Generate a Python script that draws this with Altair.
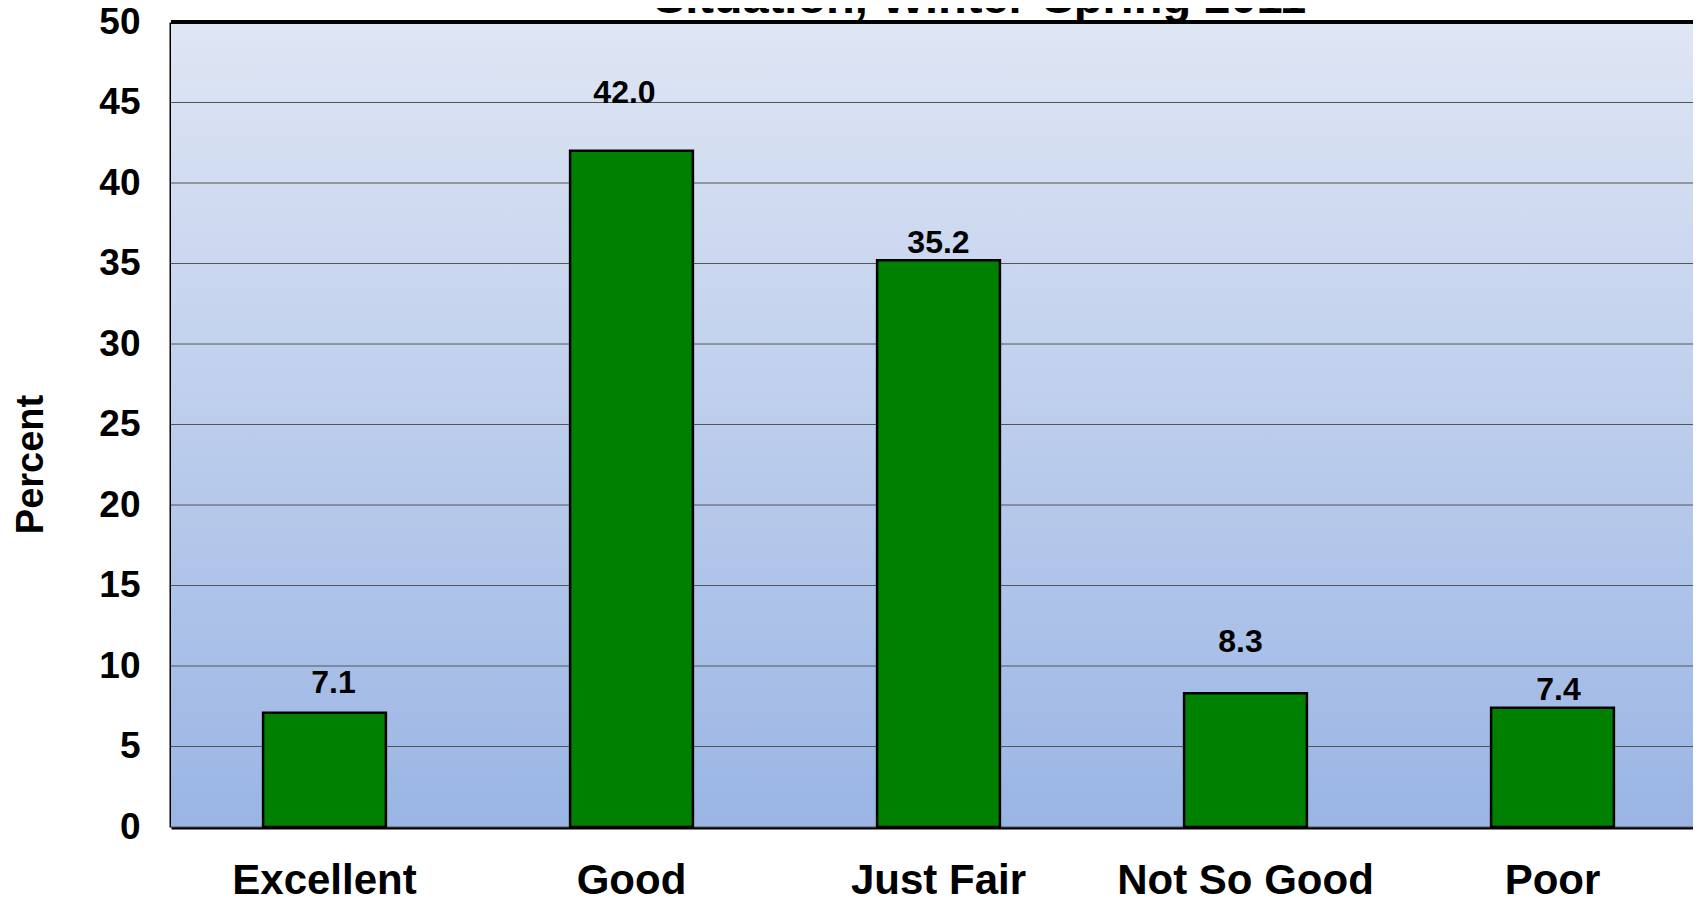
import altair as alt
import pandas as pd

# ---- data ----
categories = ["Excellent", "Good", "Just Fair", "Not So Good", "Poor"]
percents = [7.1, 42.0, 35.2, 8.3, 7.4]
y_ticks = [0, 5, 10, 15, 20, 25, 30, 35, 40, 45, 50]
title_text = "Situation, Winter-Spring 2011"
y_title = "Percent"

# label placement (pixels): lift of each value label above its bar, and sideways nudge
label_lift_px = [20, 48, 7, 41, 8]
label_shift_px = [9, -7, 0, -5, 6]

df = pd.DataFrame({"category": categories, "percent": percents})
grid_df = pd.DataFrame({"tick": y_ticks})

FONT = "Liberation Sans"
PLOT_W = 1522
PLOT_H = 805

x_scale = alt.Scale(domain=categories, range=[0, 1535], paddingInner=0.6, paddingOuter=0.3)
y_scale = alt.Scale(domain=[0, 50], nice=False, zero=True)

x_axis = alt.Axis(
    title=None, labelAngle=0, labelFont=FONT, labelFontSize=42, labelFontWeight="bold",
    labelColor="black", labelBaseline="alphabetic", labelPadding=66, labelLimit=600,
    ticks=False, tickSize=0, domainColor="black", domainWidth=4, grid=False,
)
y_axis = alt.Axis(
    values=y_ticks, title=y_title, labelFont=FONT, labelFontSize=37, labelFontWeight="bold",
    labelColor="black", labelPadding=31, ticks=False, tickSize=0,
    domainColor="black", domainWidth=4, grid=False,
    titleFont=FONT, titleFontSize=38, titleFontWeight="bold", titleColor="black",
    titleAngle=270, titleX=-129, titleY=442, titleAlign="center", titleBaseline="alphabetic",
)

background = alt.Chart(alt.Data(values=[{"a": 0}])).mark_rect(
    color=alt.LinearGradient(
        gradient="linear", x1=0, y1=0, x2=0, y2=1,
        stops=[alt.GradientStop(offset=0, color="#dfe6f4"),
               alt.GradientStop(offset=1, color="#9ab5e4")],
    )
).encode(
    x=alt.value(0), x2=alt.value(PLOT_W),
    y=alt.value(0), y2=alt.value(PLOT_H),
)

gridlines = alt.Chart(grid_df).mark_rule(color="#555555", strokeWidth=1).encode(
    y=alt.Y("tick:Q", scale=y_scale)
)

base = alt.Chart(df)

bars = base.mark_bar(color="#008000", stroke="black", strokeWidth=2.5).encode(
    x=alt.X("category:N", sort=categories, scale=x_scale, axis=x_axis),
    y=alt.Y("percent:Q", scale=y_scale, axis=y_axis),
)

label_layers = []
for cat, lift, shift in zip(categories, label_lift_px, label_shift_px):
    label_layers.append(
        base.transform_filter(alt.datum.category == cat).mark_text(
            font=FONT, fontSize=32, fontWeight="bold", color="black",
            baseline="alphabetic", align="center", dx=shift, dy=-lift,
        ).encode(
            x=alt.X("category:N", sort=categories, scale=x_scale),
            y=alt.Y("percent:Q", scale=y_scale),
            text=alt.Text("percent:Q", format=".1f"),
        )
    )

top_border = alt.Chart(alt.Data(values=[{"v": 50}])).mark_rule(
    color="black", strokeWidth=4
).encode(y=alt.Y("v:Q", scale=y_scale))

# chart title (only its lower part falls inside the picture, as in the reference)
title_mark = alt.Chart(alt.Data(values=[{"t": title_text}])).mark_text(
    font=FONT, fontSize=47, fontWeight="bold", color="black",
    align="center", baseline="alphabetic",
).encode(
    x=alt.value(809), y=alt.value(-9), text="t:N",
)

chart = alt.layer(background, gridlines, bars, *label_layers, top_border, title_mark).properties(
    width=PLOT_W,
    height=PLOT_H,
    autosize=alt.AutoSizeParams(type="none"),
    padding={"left": 163, "top": 14, "right": 0, "bottom": 75},
).configure_view(
    stroke="transparent",
)

chart.save("out.html", embed_options={"renderer": "svg", "actions": False})
